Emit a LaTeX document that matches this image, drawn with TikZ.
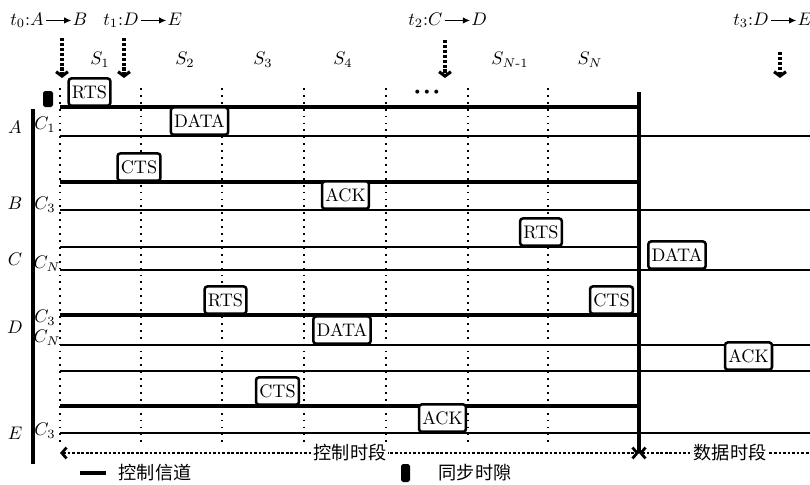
\documentclass[tikz,border=0pt]{standalone}
\usepackage{amsmath}
\usepackage{fontspec}
\newfontfamily\cjk{Noto Sans CJK SC}
\usepackage{tikz}
\usetikzlibrary{arrows.meta}
\tikzset{
  msg/.style={draw, line width=1.4pt, rounded corners=1.5pt, fill=white, anchor=south,
              inner xsep=1.8pt, inner ysep=0pt, minimum height=15pt},
  ctrl/.style={line width=1.8pt},
  chan/.style={line width=1.6pt},
  slotline/.style={line width=1pt, dash pattern=on 1pt off 2.8pt},
  period/.style={line width=1.5pt, densely dotted},
  pb/.tip={Straight Barb[length=2.6pt, width=6pt]},
  cue/.style={line width=1.7pt, densely dotted, -{Straight Barb[length=2.4pt, width=6.5pt]}},
  sendto/.style={line width=0.7pt, -{Latex[length=4pt, width=3.6pt]}, shorten <=1pt, shorten >=0.5pt},
  req/.style={inner sep=0pt},
  sync/.style={fill=black, rounded corners=1pt},
  zh/.style={font=\cjk, inner sep=1pt},
}

\begin{document}
\begin{tikzpicture}[x=0.55pt, y=-0.55pt]
  \useasboundingbox (0,0) rectangle (810,484);

  % --- slot boundaries ---
  \foreach \x in {60,141,222,304,386,468,548}
    \draw[slotline] (\x,88) -- (\x,445);

  % --- channel lines ---
  \foreach \y in {107,182,315,406}
    \draw[ctrl] (60,\y) -- (639,\y);
  \draw[line width=1pt] (60,247) -- (639,247);
  \foreach \y in {136,210,270,345,371,433}
    \draw[chan] (60,\y) -- (810,\y);

  % --- frame lines ---
  \draw[line width=1.8pt] (639,92) -- (639,453);
  \draw[line width=1.8pt] (33,109) -- (33,464);
  \fill[sync] (43,91) rectangle (53,107);

  % --- messages ---
  \node[msg] (rtsA)  at (89.5,107) {RTS};
  \node[msg] (dataA) at (199.5,136) {DATA};
  \node[msg] (ctsB)  at (139,182) {CTS};
  \node[msg] (ackB)  at (345.5,210) {ACK};
  \node[msg] (rtsC)  at (541,247) {RTS};
  \node[msg] (dataC) at (677,270) {DATA};
  \node[msg] (rtsD)  at (225.5,315) {RTS};
  \node[msg] (ctsD)  at (611.5,315) {CTS};
  \node[msg] (dataD) at (342,345) {DATA};
  \node[msg] (ackD)  at (748.5,371) {ACK};
  \node[msg] (ctsE)  at (277.5,406) {CTS};
  \node[msg] (ackE)  at (442.5,433) {ACK};

  % --- node and channel labels ---
  \node (nA) at (15,127) {$A$};
  \node (nB) at (15,203) {$B$};
  \node (nC) at (15,259) {$C$};
  \node (nD) at (15,327) {$D$};
  \node (nE) at (15,433) {$E$};
  \node[inner sep=0pt] (chA)  at (45,125) {$C_1$};
  \node[inner sep=0pt] (chB)  at (45,205) {$C_3$};
  \node[inner sep=0pt] (chC)  at (47,264) {$C_N$};
  \node[inner sep=0pt] (chD1) at (45,318) {$C_3$};
  \node[inner sep=0pt] (chD2) at (47,338) {$C_N$};
  \node[inner sep=0pt] (chE)  at (45,431) {$C_3$};

  % --- slot names ---
  \node (s1)  at (100,60) {$S_1$};
  \node (s2)  at (185,60) {$S_2$};
  \node (s3)  at (263,60) {$S_3$};
  \node (s4)  at (343,60) {$S_4$};
  \node (sn1) at (510,60) {$S_{N\text{-}1}$};
  \node (sn)  at (590,60) {$S_N$};
  \node[scale=1.4] (dots) at (427,92)
    {$\boldsymbol{\cdot}\mkern-3mu\boldsymbol{\cdot}\mkern-3mu\boldsymbol{\cdot}$};

  % --- transmission requests ---
  \node[req, anchor=base west] (t0s) at (10,25) {$t_0{:}A$};
  \node[req, anchor=base west] (t0d) at ([xshift=15.5pt]t0s.base east) {$B$};
  \node[req, anchor=base west] (t1s) at (103,25) {$t_1{:}D$};
  \node[req, anchor=base west] (t1d) at ([xshift=15.5pt]t1s.base east) {$E$};
  \node[req, anchor=base west] (t2s) at (408,25) {$t_2{:}C$};
  \node[req, anchor=base west] (t2d) at ([xshift=15.5pt]t2s.base east) {$D$};
  \node[req, anchor=base west] (t3s) at (733,25) {$t_3{:}D$};
  \node[req, anchor=base west] (t3d) at ([xshift=15.5pt]t3s.base east) {$E$};
  \foreach \t in {t0,t1,t2,t3}
    \draw[sendto] ([yshift=2.5pt]\t s.base east) -- ([yshift=2.5pt]\t d.base west);

  \coordinate (a0) at (62,38);
  \coordinate (a1) at (124,38);
  \coordinate (a2) at (445,40);
  \coordinate (a3) at (780,52);
  \draw[cue] (a0) -- (62,78);
  \draw[cue] (a1) -- (124,78);
  \draw[cue] (a2) -- (445,78);
  \draw[cue] (a3) -- (780,78);

  % --- periods ---
  \coordinate (cp0) at (60,453);
  \coordinate (cp1) at (639,453);
  \coordinate (dp1) at (810,453);
  \draw[period, pb-pb] (cp0) -- (cp1);
  \draw[period, pb-] (cp1) -- (dp1);
  \node[zh, fill=white] (ctrlp) at (350,453) {控制时段};
  \node[zh, fill=white] (datap) at (730,453) {数据时段};

  % --- legend ---
  \draw[ctrl] (80,473) -- (106,473);
  \node[zh] (lgctrl) at (155,473) {控制信道};
  \fill[sync] (401,464) rectangle (410,482);
  \node[zh] (lgsync) at (475,473) {同步时隙};

\end{tikzpicture}
\end{document}
